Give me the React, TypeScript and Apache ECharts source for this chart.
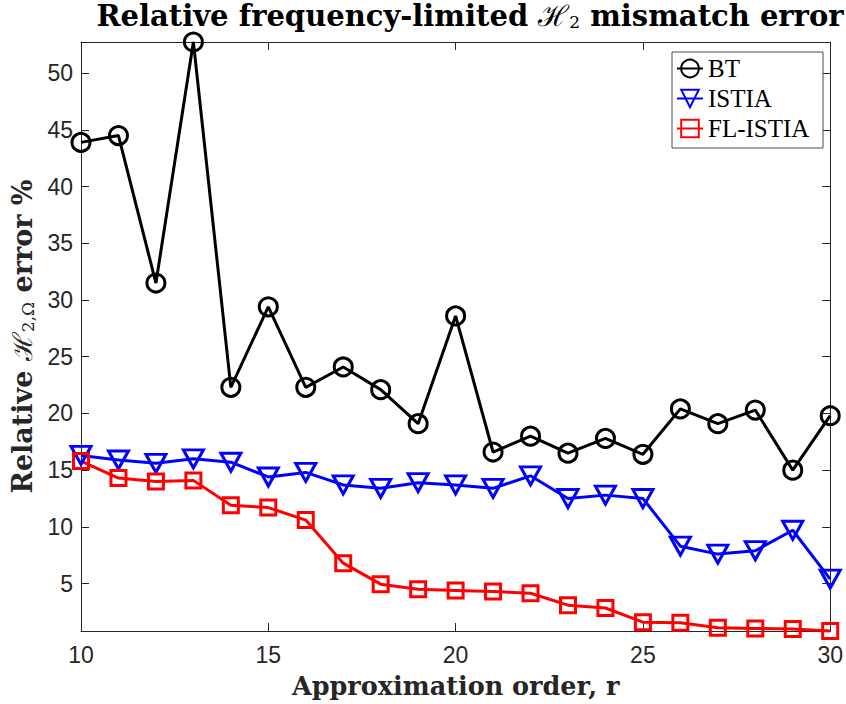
import React, { useEffect, useRef } from "react";
import * as echarts from "echarts";

const orders = [10, 11, 12, 13, 14, 15, 16, 17, 18, 19, 20, 21, 22, 23, 24, 25, 26, 27, 28, 29, 30];
const btError = [43.9, 44.5, 31.5, 52.75, 22.3, 29.4, 22.3, 24.1, 22.1, 19.1, 28.6, 16.6, 18.0, 16.5, 17.8, 16.4, 20.4, 19.1, 20.3, 15.0, 19.8];
const istiaError = [16.3, 15.9, 15.6, 16.0, 15.7, 14.4, 14.8, 13.7, 13.4, 13.9, 13.7, 13.4, 14.5, 12.5, 12.8, 12.5, 8.3, 7.6, 7.9, 9.7, 5.4];
const flIstiaError = [15.8, 14.3, 14.0, 14.1, 11.9, 11.7, 10.6, 6.8, 4.95, 4.5, 4.4, 4.3, 4.15, 3.1, 2.85, 1.6, 1.55, 1.1, 1.05, 1.0, 0.82];
const seriesNames = ["BT", "ISTIA", "FL-ISTIA"];
const xTicks = [10, 15, 20, 25, 30];

const AXIS_COLOR = "#262626";
const SERIF = "DejaVu Serif";
const LEGEND_SERIF = "Liberation Serif";
const SANS = "Liberation Sans";

export default function App() {
  const ref = useRef<HTMLDivElement>(null);

  useEffect(() => {
    if (!ref.current) return;
    const chart = echarts.init(ref.current, undefined, { renderer: "svg" });
    const all = [...btError, ...istiaError, ...flIstiaError];
    const yMin = Math.min(...all);
    const yMax = Math.max(...all);
    const xMin = xTicks[0];
    const xMax = xTicks[xTicks.length - 1];

    const tickStyle = { show: true, inside: true, length: 8, lineStyle: { color: AXIS_COLOR, width: 1 } };
    const lineAxis = { show: true, lineStyle: { color: AXIS_COLOR, width: 1 } };

    const mk = (arr: number[]) => orders.map((r, i) => [r, arr[i]]);

    chart.setOption({
      animation: false,
      backgroundColor: "#ffffff",
      grid: { left: 81, right: 14, top: 42, bottom: 71, containLabel: false },
      graphic: [
        {
          type: "text",
          x: 470,
          y: 16,
          style: {
            text: "{a|Relative frequency-limited }{h|ℋ}{s|2}{a| mismatch error}",
            align: "center",
            verticalAlign: "middle",
            fill: "#000",
            rich: {
              a: { fontFamily: SERIF, fontWeight: "bold", fontSize: 29, fill: "#000" },
              h: { fontFamily: SERIF, fontSize: 29, fill: "#000" },
              s: { fontFamily: SERIF, fontSize: 17, fill: "#000", padding: [12, 0, 0, 0] },
            },
          },
          z: 10,
        },
        {
          type: "rect",
          shape: { x: 672, y: 52, width: 151, height: 96 },
          style: { fill: "#ffffff", stroke: "#4d4d4d", lineWidth: 1 },
          z: 3,
        },
      ],
      legend: {
        data: seriesNames,
        orient: "vertical",
        left: 676,
        top: 56,
        padding: 0,
        itemWidth: 26,
        itemHeight: 22,
        itemGap: 5,
        textStyle: { fontFamily: LEGEND_SERIF, fontSize: 25, color: "#000", lineHeight: 22 },
        z: 6,
      },
      xAxis: [
        {
          type: "value",
          min: xMin,
          max: xMax,
          interval: 5,
          name: "Approximation order, r",
          nameLocation: "middle",
          nameGap: 42,
          nameTextStyle: { fontFamily: SERIF, fontWeight: "bold", fontSize: 25.5, color: "#262626" },
          axisLine: lineAxis,
          axisTick: tickStyle,
          axisLabel: { fontFamily: SANS, fontSize: 23, color: "#262626", margin: 12 },
          splitLine: { show: false },
        },
        {
          type: "value",
          position: "top",
          min: xMin,
          max: xMax,
          interval: 5,
          axisLine: lineAxis,
          axisTick: tickStyle,
          axisLabel: { show: false },
          splitLine: { show: false },
        },
      ],
      yAxis: [
        {
          type: "value",
          min: yMin,
          max: yMax,
          minInterval: 5,
          maxInterval: 5,
          name: "{a|Relative }{h|ℋ}{s|2,Ω}{a| error %}",
          nameLocation: "middle",
          nameGap: 44,
          nameRotate: 90,
          nameTextStyle: {
            color: "#262626",
            rich: {
              a: { fontFamily: SERIF, fontWeight: "bold", fontSize: 27, color: "#262626" },
              h: { fontFamily: SERIF, fontSize: 27, color: "#262626" },
              s: { fontFamily: SERIF, fontSize: 17, color: "#262626", padding: [11, 0, 0, 0] },
            },
          },
          axisLine: lineAxis,
          axisTick: tickStyle,
          axisLabel: { fontFamily: SANS, fontSize: 23, color: "#262626", margin: 8, showMinLabel: false, showMaxLabel: false },
          splitLine: { show: false },
        },
        {
          type: "value",
          position: "right",
          min: yMin,
          max: yMax,
          minInterval: 5,
          maxInterval: 5,
          axisLine: lineAxis,
          axisTick: tickStyle,
          axisLabel: { show: false },
          splitLine: { show: false },
        },
      ],
      series: [
        {
          name: seriesNames[0],
          type: "line",
          data: mk(btError),
          symbol: "circle",
          symbolSize: 18,
          clip: false,
          lineStyle: { color: "#000000", width: 3 },
          itemStyle: { color: "rgba(0,0,0,0)", borderColor: "#000000", borderWidth: 3 },
          emphasis: { disabled: true },
          z: 2,
        },
        {
          name: seriesNames[1],
          type: "line",
          data: mk(istiaError),
          symbol: "triangle",
          symbolRotate: 180,
          symbolSize: [20, 18],
          clip: false,
          lineStyle: { color: "#0000ff", width: 3 },
          itemStyle: { color: "rgba(0,0,0,0)", borderColor: "#0000ff", borderWidth: 3 },
          emphasis: { disabled: true },
          z: 2,
        },
        {
          name: seriesNames[2],
          type: "line",
          data: mk(flIstiaError),
          symbol: "rect",
          symbolSize: 15,
          clip: false,
          lineStyle: { color: "#ff0000", width: 3 },
          itemStyle: { color: "rgba(0,0,0,0)", borderColor: "#ff0000", borderWidth: 3 },
          emphasis: { disabled: true },
          z: 2,
        },
      ],
    });
    return () => chart.dispose();
  }, []);

  return <div ref={ref} style={{ width: 846, height: 704, position: "absolute", left: 0, top: 0 }} />;
}
